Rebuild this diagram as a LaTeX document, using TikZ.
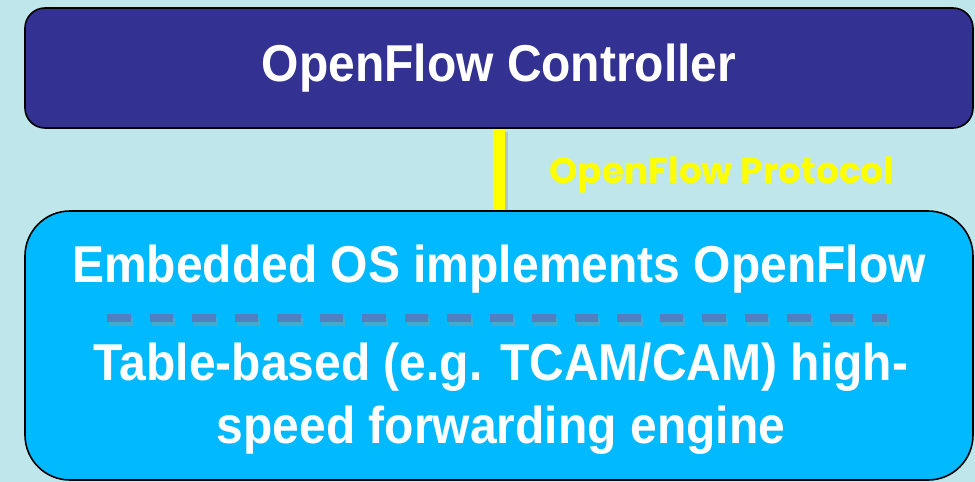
\documentclass[tikz,border=0pt]{standalone}
\usepackage{fontspec}
\setmainfont{Liberation Sans}
\newfontfamily\protofont{Poppins}
\definecolor{bgcol}{RGB}{191,230,234}
\definecolor{ctrlcol}{RGB}{51,49,145}
\definecolor{swcol}{RGB}{0,185,255}
\definecolor{dashcol}{RGB}{82,128,190}
\definecolor{protocol}{RGB}{255,255,0}
\tikzset{
  x=1pt, y=-1pt,
  layerbox/.style={draw=black, line width=1.6pt},
  boxtext/.style={text=white, font=\fontsize{48}{58}\selectfont\bfseries, align=center, inner sep=0pt, yscale=1.08, transform shape},
  prototext/.style={text=protocol, font=\protofont\fontsize{36}{40}\selectfont\bfseries, inner sep=0pt},
}
\begin{document}
\begin{tikzpicture}
  % canvas
  \fill[bgcol] (0,0) rectangle (975,482);
  \useasboundingbox (0,0) rectangle (975,482);

  % link between the layers
  \fill[black!35, opacity=0.5] (496,132) rectangle (508,214);
  \node[fill=protocol, minimum width=12pt, minimum height=85pt, inner sep=0pt, anchor=north] (link) at (499,127) {};

  % controller box
  \draw[layerbox, fill=ctrlcol, rounded corners=20pt] (25,8) rectangle (973,128);
  \node[boxtext] (ctrl) at (499,68) {OpenFlow Controller};

  % switch box
  \draw[layerbox, fill=swcol, rounded corners=45pt] (25,211) rectangle (973,480);
  \node[boxtext] (os) at (499,269) {Embedded OS implements OpenFlow};
  \node[boxtext] (engine) at (501,399) {Table-based (e.g. TCAM/CAM) high-\\speed forwarding engine};

  % protocol label
  \node[prototext] (proto) at (722,175) {OpenFlow Protocol};

  % divider between the two parts of the switch
  \coordinate (dl) at (107,318);
  \coordinate (dr) at (887,318);
  \draw[black!40, opacity=0.45, line width=8pt, dash pattern=on 23.5pt off 19pt] ([shift={(2,4)}]dl) -- ([shift={(2,4)}]dr);
  \draw[dashcol, line width=8pt, dash pattern=on 23.5pt off 19pt] (dl) -- (dr);
\end{tikzpicture}
\end{document}
